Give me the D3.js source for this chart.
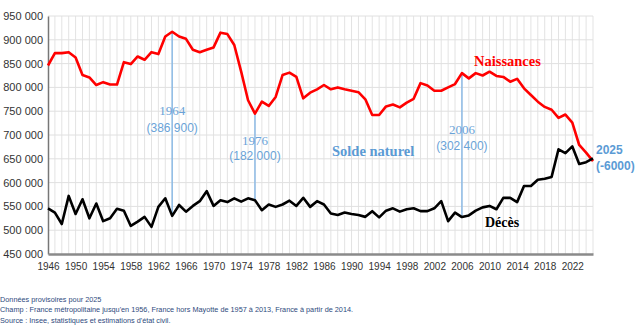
<!DOCTYPE html>
<html>
<head>
<meta charset="utf-8">
<script src="https://cdn.jsdelivr.net/npm/d3@7"></script>
<style>
  body { margin: 0; background: #fff; }
  svg { display: block; }
  .tick text { fill: #333; }
</style>
</head>
<body>
<svg width="638" height="325"></svg>
<script>
// Naissances et décès annuels, 1946-2025
var years = d3.range(1946, 2026);

var naissances = [
  846000, 872000, 872000, 874000, 863000, 826000, 821000, 805000, 811000, 806000,
  806000, 853000, 849000, 865000, 858000, 874000, 870000, 907000, 917000, 907000,
  902000, 879000, 874000, 879000, 884000, 915000, 912000, 889000, 833000, 773000,
  745000, 770000, 761000, 780000, 826000, 831000, 822000, 777000, 789000, 796000,
  805000, 796000, 800000, 796000, 793000, 790000, 775000, 742000, 742000, 760000,
  764000, 758000, 768000, 776000, 809000, 804000, 793000, 793000, 800000, 807000,
  830000, 819000, 830000, 825000, 833000, 824000, 822000, 812000, 818000, 798000,
  784000, 770000, 759000, 753000, 736000, 743000, 726000, 679000, 663000, 645000
];

var deces = [
  546000, 537000, 513000, 572000, 534000, 565000, 525000, 556000, 519000, 525000,
  545000, 541000, 509000, 518000, 528000, 507000, 549000, 567000, 530100, 553000,
  539000, 551000, 561000, 582000, 551000, 563000, 559000, 567000, 560000, 567000,
  563000, 542000, 554000, 549000, 554000, 562000, 551000, 568000, 549000, 561000,
  554000, 535000, 532000, 537000, 534000, 532000, 528000, 540000, 527000, 541000,
  546000, 539000, 544000, 546000, 540000, 540000, 546000, 561000, 519000, 537000,
  527600, 531000, 541000, 548000, 551000, 544000, 568000, 568000, 559000, 593000,
  593000, 606000, 608000, 612000, 670000, 662000, 676000, 639000, 643000, 651000
];

var yTicks = d3.range(450000, 950001, 50000);
var xTickYears = d3.range(1946, 2023, 4);

// années commentées avec le solde naturel
var soldeAnnees = [1964, 1976, 2006];
var soldeTextes = ["(386 900)", "(182 000)", "(302 400)"];

var svg = d3.select("svg");
var plotLeft = 48, plotRight = 593, plotTop = 16, plotBottom = 254;

var x = d3.scaleLinear().domain([1946, 2025]).range([plotLeft, plotRight]);
var y = d3.scaleLinear().domain([450000, 950000]).range([plotBottom, plotTop]);

var fr = d3.formatLocale({ decimal: ",", thousands: " ", grouping: [3], currency: ["", " €"] });
var fmt = fr.format(",");

// quadrillage
svg.append("g")
  .selectAll("line")
  .data(years.slice(1))
  .enter().append("line")
    .attr("x1", function(d) { return x(d); })
    .attr("x2", function(d) { return x(d); })
    .attr("y1", plotTop).attr("y2", plotBottom)
    .attr("stroke", "#e3e3e3").attr("stroke-width", 1);

svg.append("g")
  .selectAll("line")
  .data(yTicks.slice(1))
  .enter().append("line")
    .attr("x1", plotLeft).attr("x2", plotRight)
    .attr("y1", function(d) { return y(d); })
    .attr("y2", function(d) { return y(d); })
    .attr("stroke", "#e0e0e0").attr("stroke-width", 1);

// axes
var yAxis = svg.append("g")
    .attr("transform", "translate(" + plotLeft + ",0)")
    .call(d3.axisLeft(y).tickValues(yTicks).tickFormat(fmt).tickSize(0).tickPadding(5));
yAxis.select(".domain").attr("stroke", "#777").attr("stroke-width", 1.5);
yAxis.selectAll("text").style("font-family", "Liberation Sans, Arial, sans-serif").style("font-size", "11px");

var xAxis = svg.append("g")
    .attr("transform", "translate(0," + plotBottom + ")")
    .call(d3.axisBottom(x).tickValues(xTickYears).tickFormat(d3.format("d")).tickSize(0).tickPadding(9));
xAxis.select(".domain").attr("stroke", "#8a8a8a").attr("stroke-width", 2.5);
xAxis.selectAll("text").style("font-family", "Liberation Sans, Arial, sans-serif").style("font-size", "10px");

// traits du solde naturel
var blue = "#6aa3d8";
soldeAnnees.forEach(function(a, i) {
  var k = years.indexOf(a);
  svg.append("line")
    .attr("x1", x(a)).attr("x2", x(a))
    .attr("y1", y(naissances[k])).attr("y2", y(deces[k]))
    .attr("stroke", "#8dbbe6").attr("stroke-width", 1.5);
});

// courbes
var line = d3.line()
  .x(function(d, i) { return x(years[i]); })
  .y(function(d) { return y(d); });

svg.append("path").datum(naissances)
  .attr("d", line).attr("fill", "none")
  .attr("stroke", "#ff0000").attr("stroke-width", 2.6).attr("stroke-linejoin", "round");

svg.append("path").datum(deces)
  .attr("d", line).attr("fill", "none")
  .attr("stroke", "#000").attr("stroke-width", 2.6).attr("stroke-linejoin", "round");

// libellés
var labelY = [[115, 132], [145, 160], [134, 150]];
soldeAnnees.forEach(function(a, i) {
  svg.append("text")
    .attr("x", x(a)).attr("y", labelY[i][0])
    .attr("text-anchor", "middle")
    .style("font-family", "'Liberation Serif', Cambria, serif").style("font-size", "13px")
    .attr("fill", blue).text(a);
  svg.append("text")
    .attr("x", x(a)).attr("y", labelY[i][1])
    .attr("text-anchor", "middle")
    .style("font-family", "'Liberation Sans', Calibri, sans-serif").style("font-size", "12px")
    .attr("fill", blue).text(soldeTextes[i]);
});

svg.append("text")
  .attr("x", 332).attr("y", 156)
  .style("font-family", "'Liberation Serif', Cambria, serif").style("font-size", "14.5px").style("font-weight", "bold")
  .attr("fill", "#5b9bd5").text("Solde naturel");

svg.append("text")
  .attr("x", 474).attr("y", 66)
  .style("font-family", "'Liberation Serif', Cambria, serif").style("font-size", "14.5px").style("font-weight", "bold")
  .attr("fill", "#ff0000").text("Naissances");

svg.append("text")
  .attr("x", 485).attr("y", 227)
  .style("font-family", "'Liberation Serif', Cambria, serif").style("font-size", "14px").style("font-weight", "bold")
  .attr("fill", "#000").text("Décès");

var last = naissances[naissances.length - 1] - deces[deces.length - 1];
svg.append("text")
  .attr("x", 596).attr("y", 154)
  .style("font-family", "'Liberation Sans', Calibri, sans-serif").style("font-size", "12px").style("font-weight", "bold")
  .attr("fill", "#5b9bd5").text(years[years.length - 1]);
svg.append("text")
  .attr("x", 596).attr("y", 170)
  .style("font-family", "'Liberation Sans', Calibri, sans-serif").style("font-size", "12px").style("font-weight", "bold")
  .attr("fill", "#5b9bd5").text("(" + last + ")");

// notes
var notes = [
  "Données provisoires pour 2025",
  "Champ : France métropolitaine jusqu'en 1956, France hors Mayotte de 1957 à 2013, France à partir de 2014.",
  "Source : Insee, statistiques et estimations d'état civil."
];
svg.append("g").selectAll("text")
  .data(notes)
  .enter().append("text")
    .attr("x", 0)
    .attr("y", function(d, i) { return [302, 312, 323][i]; })
    .style("font-family", "'Liberation Sans', Arial, sans-serif").style("font-size", "7.3px")
    .attr("fill", "#2e4a7d")
    .text(function(d) { return d; });
</script>
</body>
</html>
